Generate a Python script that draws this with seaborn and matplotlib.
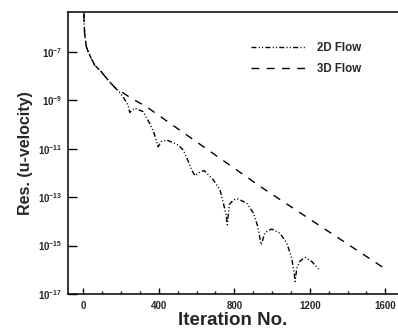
import numpy as np
import pandas as pd
import matplotlib
matplotlib.use("Agg")
import matplotlib.pyplot as plt
import seaborn as sns
from matplotlib.ticker import FixedLocator, MultipleLocator, NullLocator

# ---- data (iteration, residual) ----
iter_2d = [0, 4, 7, 16, 34, 60, 95, 131, 166, 190, 210, 237, 246, 272, 316, 352,
           375, 396, 413, 442, 503, 530, 556, 574, 592, 609, 640, 689, 724, 742,
           756, 763, 773, 795, 821, 866, 901, 924, 942, 963, 998, 1042, 1078,
           1104, 1116, 1122, 1131, 1148, 1175, 1210, 1250]
res_2d = [1.0e-4, 2.0e-6, 5.8e-7, 1.6e-7, 7.2e-8, 2.8e-8, 1.5e-8, 6.8e-9, 3.4e-9,
          2.2e-9, 1.4e-9, 6.3e-10, 3.1e-10, 4.7e-10, 3.4e-10, 1.1e-10,
          4.4e-11, 1.2e-11, 1.95e-11, 2.3e-11, 1.4e-11, 8.7e-12, 3.0e-12, 1.3e-12,
          7.6e-13, 1.0e-12, 1.25e-12, 5.1e-13, 2.0e-13, 5.6e-14,
          1.9e-14, 7.2e-15, 4.8e-14, 7.8e-14, 8.3e-14, 5.6e-14, 2.2e-14, 6.2e-15,
          1.07e-15, 3.5e-15, 4.8e-15, 3.2e-15, 1.26e-15,
          3.0e-16, 8.5e-17, 3.3e-17, 1.17e-16, 2.3e-16, 3.2e-16, 2.2e-16, 1.0e-16]

iter_3d = [0, 4, 7, 16, 34, 60, 95, 131, 166, 254, 334, 405, 937, 1587]
res_3d = [1.0e-4, 2.0e-6, 5.8e-7, 1.6e-7, 7.2e-8, 2.8e-8, 1.5e-8, 6.8e-9, 3.4e-9,
          1.2e-9, 5.4e-10, 2.2e-10, 2.75e-13, 1.26e-16]

labels = ["2D Flow", "3D Flow"]
x_ticks = [0, 400, 800, 1200, 1600]
y_exps = [-17, -15, -13, -11, -9, -7]

sns.set_theme(style="ticks")
plt.rcParams["font.family"] = ["Liberation Sans", "DejaVu Sans"]
plt.rcParams["font.weight"] = "bold"
plt.rcParams["mathtext.fontset"] = "custom"
plt.rcParams["mathtext.rm"] = "Liberation Sans:bold"
plt.rcParams["mathtext.bf"] = "Liberation Sans:bold"
plt.rcParams["mathtext.it"] = "Liberation Sans:bold"

fig = plt.figure(figsize=(3.98, 3.28), dpi=100)
ax = fig.add_axes([68 / 398, (328 - 294) / 328, 330 / 398, 282 / 328])

df2 = pd.DataFrame({"iteration": iter_2d, "res": res_2d})
df3 = pd.DataFrame({"iteration": iter_3d, "res": res_3d})

sns.lineplot(data=df2, x="iteration", y="res", ax=ax, color="black", lw=1.0,
             linestyle=(0, (3.6, 1.6, 0.8, 1.6, 0.8, 1.6)), label=labels[0],
             estimator=None, sort=False)
sns.lineplot(data=df3, x="iteration", y="res", ax=ax, color="black", lw=1.0,
             linestyle=(0, (5.6, 5.4)), label=labels[1],
             estimator=None, sort=False)

ax.set_yscale("log")
ax.set_xlim(-81, 1667)
ax.set_ylim(1e-17, 10 ** -5.36)

ax.xaxis.set_major_locator(FixedLocator(x_ticks))
ax.set_xticklabels([str(v) for v in x_ticks])
ax.xaxis.set_minor_locator(MultipleLocator(100))
ax.yaxis.set_major_locator(FixedLocator([10.0 ** e for e in y_exps]))
ax.set_yticklabels([r"$\mathbf{10^{%d}}$" % e for e in y_exps])
ax.yaxis.set_minor_locator(NullLocator())

ax.tick_params(axis="x", which="major", direction="in", length=4.5, width=1.0,
               labelsize=7, pad=5, color="black")
ax.tick_params(axis="x", which="minor", direction="in", length=2.5, width=1.0,
               color="black")
ax.tick_params(axis="y", which="major", direction="in", length=6.5, width=1.0,
               labelsize=7, pad=4, color="black")
for lab in ax.get_xticklabels() + ax.get_yticklabels():
    lab.set_fontweight("bold")

for s in ["left", "bottom", "top"]:
    ax.spines[s].set_linewidth(1.1)
    ax.spines[s].set_color("black")
ax.spines["right"].set_visible(False)

ax.set_xlabel("Iteration No.", fontsize=13.5, fontweight="bold", labelpad=1)
ax.set_ylabel("Res. (u-velocity)", fontsize=11.5, fontweight="bold", labelpad=4)

leg = ax.legend(loc="upper left", bbox_to_anchor=(0.5545, 0.895), frameon=False,
                fontsize=8.3, handlelength=4.8, handletextpad=0.9,
                labelspacing=0.85, borderpad=0, borderaxespad=0)
for t in leg.get_texts():
    t.set_fontweight("bold")

fig.savefig("out.png", dpi=100)
